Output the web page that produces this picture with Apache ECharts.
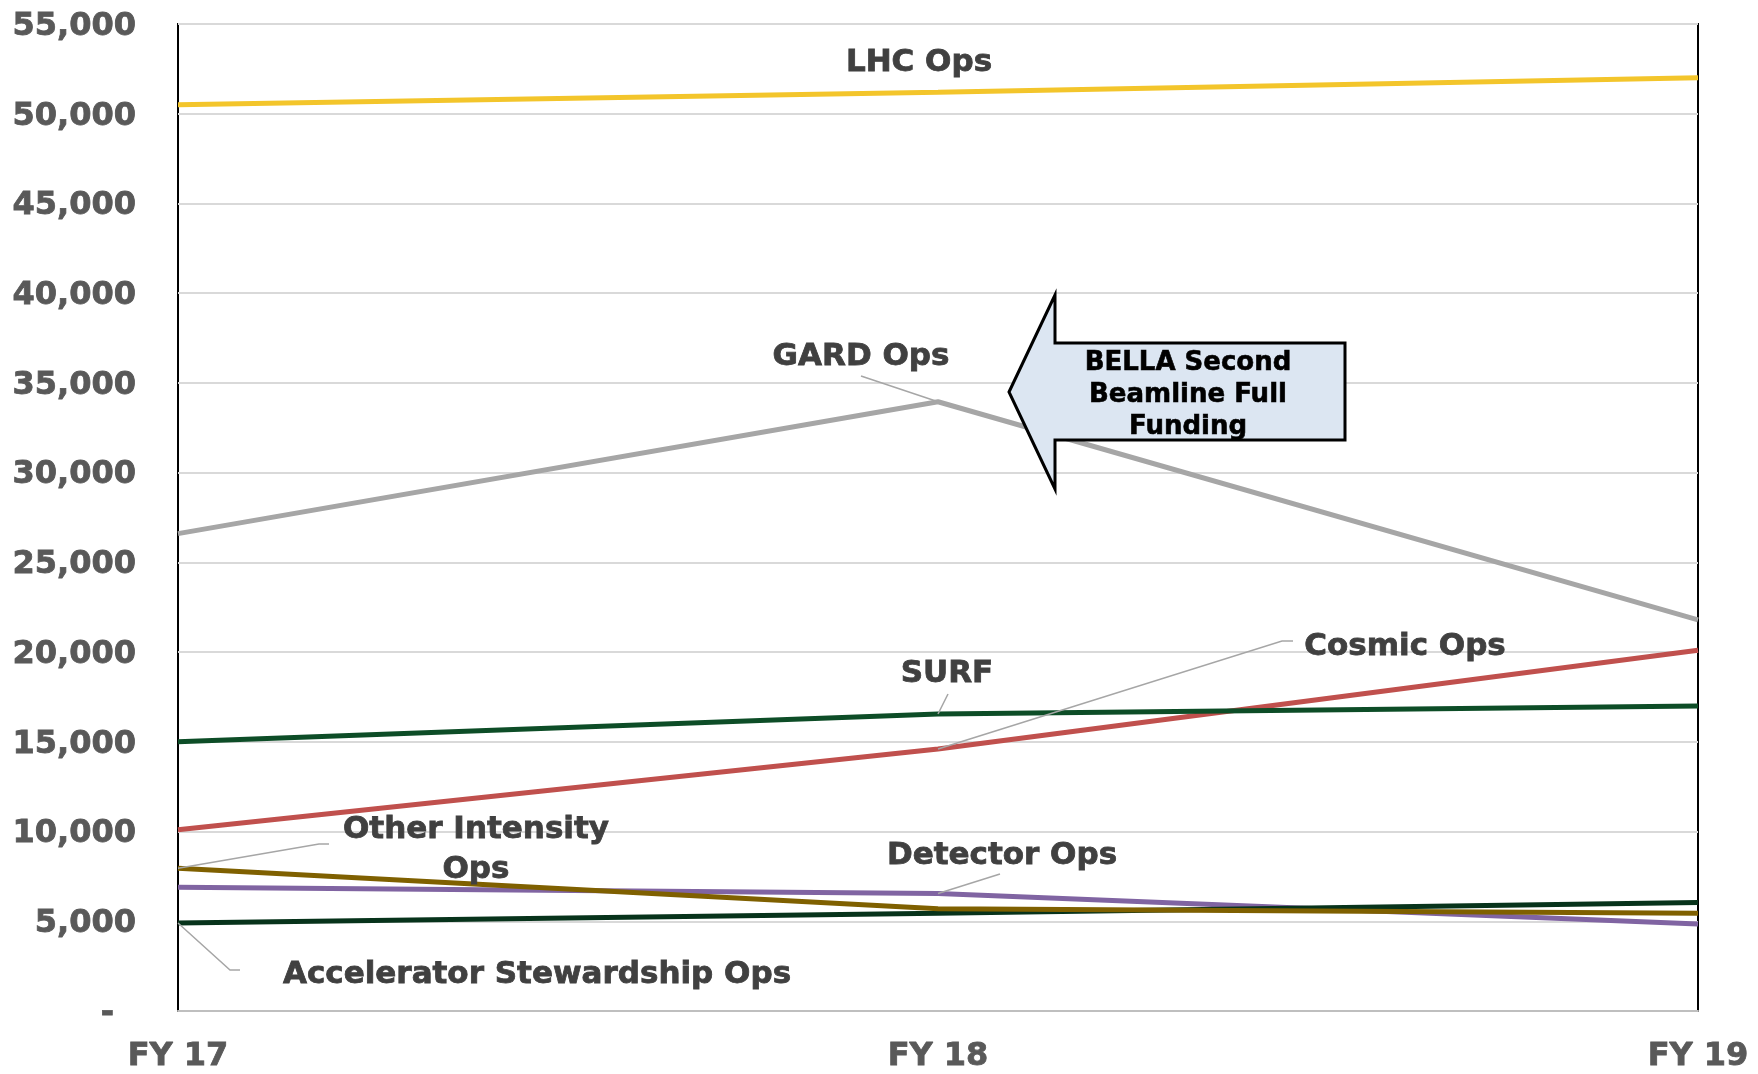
<!DOCTYPE html>
<html>
<head>
<meta charset="utf-8">
<title>Ops funding</title>
<script src="https://cdn.jsdelivr.net/npm/echarts@6/dist/echarts.min.js"></script>
<style>
  html, body { margin: 0; padding: 0; background: #fff; }
  #main { width: 1758px; height: 1074px; }
</style>
</head>
<body>
<div id="main"></div>
<script>
var categories = ['FY 17', 'FY 18', 'FY 19'];
var lhcOps = [50500, 51200, 52000];
var gardOps = [26600, 33950, 21800];
var cosmicOps = [10100, 14600, 20100];
var surf = [15000, 16550, 17000];
var detectorOps = [6900, 6550, 4850];
var otherIntensityOps = [7950, 5700, 5450];
var acceleratorStewardshipOps = [4900, 5450, 6050];

var yMin = 0, yMax = 55000, yStep = 5000;

var labelFont = 'bold 31px "DejaVu Sans", Verdana, sans-serif';
var labelColor = '#404040';
var leaderColor = '#A6A6A6';

var chart = echarts.init(document.getElementById('main'));

function line(name, data, color) {
    return {
        name: name,
        type: 'line',
        data: data,
        symbol: 'none',
        smooth: false,
        lineStyle: { color: color, width: 5 },
        emphasis: { disabled: true }
    };
}

var tickText = {
    color: '#595959',
    fontFamily: 'DejaVu Sans',
    fontWeight: 'bold',
    fontSize: 32,
    textBorderColor: '#595959',
    textBorderWidth: 0.8
};

chart.setOption({
    animation: false,
    grid: {
        left: 178, right: 60, top: 24, bottom: 63,
        show: true, borderColor: '#000', borderWidth: 2
    },
    xAxis: {
        type: 'category',
        boundaryGap: false,
        data: categories,
        axisLine: { lineStyle: { color: '#BFBFBF', width: 2 } },
        axisTick: { show: false },
        axisLabel: Object.assign({ margin: 30 }, tickText)
    },
    yAxis: {
        type: 'value',
        min: yMin, max: yMax, interval: yStep,
        axisLine: { show: false },
        axisTick: { show: false },
        splitLine: { lineStyle: { color: '#D9D9D9', width: 2 } },
        axisLabel: Object.assign({
            margin: 42,
            padding: [5, 0, 0, 0],
            formatter: function (v) {
                if (v === 0) return '{d|-}';
                return v.toLocaleString('en-US');
            },
            rich: {
                d: Object.assign({ padding: [0, 22, 0, 0] }, tickText)
            }
        }, tickText)
    },
    series: [
        line('Detector Ops', detectorOps, '#8064A2'),
        line('Cosmic Ops', cosmicOps, '#C0504D'),
        line('GARD Ops', gardOps, '#A6A6A6'),
        line('LHC Ops', lhcOps, '#F3C52B'),
        line('Accelerator Stewardship Ops', acceleratorStewardshipOps, '#07331B'),
        line('Other Intensity Ops', otherIntensityOps, '#7F6000'),
        line('SURF', surf, '#0D4D27')
    ]
});

// anchor points on the lines for the callout leaders
function pt(idx, value) {
    return chart.convertToPixel({ gridIndex: 0 }, [idx, value]);
}

function text(str, x, y, extra) {
    var style = {
        text: str, fill: labelColor, font: labelFont, align: 'center', verticalAlign: 'middle',
        stroke: labelColor, lineWidth: 0.8
    };
    for (var k in extra) style[k] = extra[k];
    return { type: 'text', x: x, y: y, z: 100, style: style };
}

function leader(points) {
    return { type: 'polyline', z: 90, shape: { points: points }, style: { stroke: leaderColor, lineWidth: 1.5, fill: null } };
}

var graphics = [
    text('LHC Ops', 919, 63),
    text('GARD Ops', 861, 357),
    leader([[861, 376], pt(1, gardOps[1])]),
    text('SURF', 947, 674),
    leader([[948, 694], pt(1, surf[1])]),
    text('Cosmic Ops', 1405, 647),
    leader([[1293, 641], [1282, 641], pt(1, cosmicOps[1])]),
    text('Detector Ops', 1002, 856),
    leader([[1000, 874], pt(1, detectorOps[1])]),
    text('Other Intensity\nOps', 476, 850, { lineHeight: 40 }),
    leader([pt(0, otherIntensityOps[0]), [319, 844], [329, 844]]),
    text('Accelerator Stewardship Ops', 537, 975),
    leader([pt(0, acceleratorStewardshipOps[0]), [230, 970], [240, 970]]),
    // BELLA callout arrow
    {
        type: 'polygon', z: 110,
        shape: { points: [[1009, 392], [1055, 295], [1055, 343], [1345, 343], [1345, 440], [1055, 440], [1055, 489]] },
        style: { fill: '#DCE6F2', stroke: '#000', lineWidth: 3, lineJoin: 'miter' }
    },
    {
        type: 'text', x: 1188, y: 395, z: 120,
        style: {
            text: 'BELLA Second\nBeamline Full\nFunding',
            fill: '#000', font: 'bold 26px "DejaVu Sans", Verdana, sans-serif',
            stroke: '#000', lineWidth: 0.6,
            align: 'center', verticalAlign: 'middle', lineHeight: 32
        }
    }
];

chart.setOption({ graphic: graphics });
</script>
</body>
</html>
